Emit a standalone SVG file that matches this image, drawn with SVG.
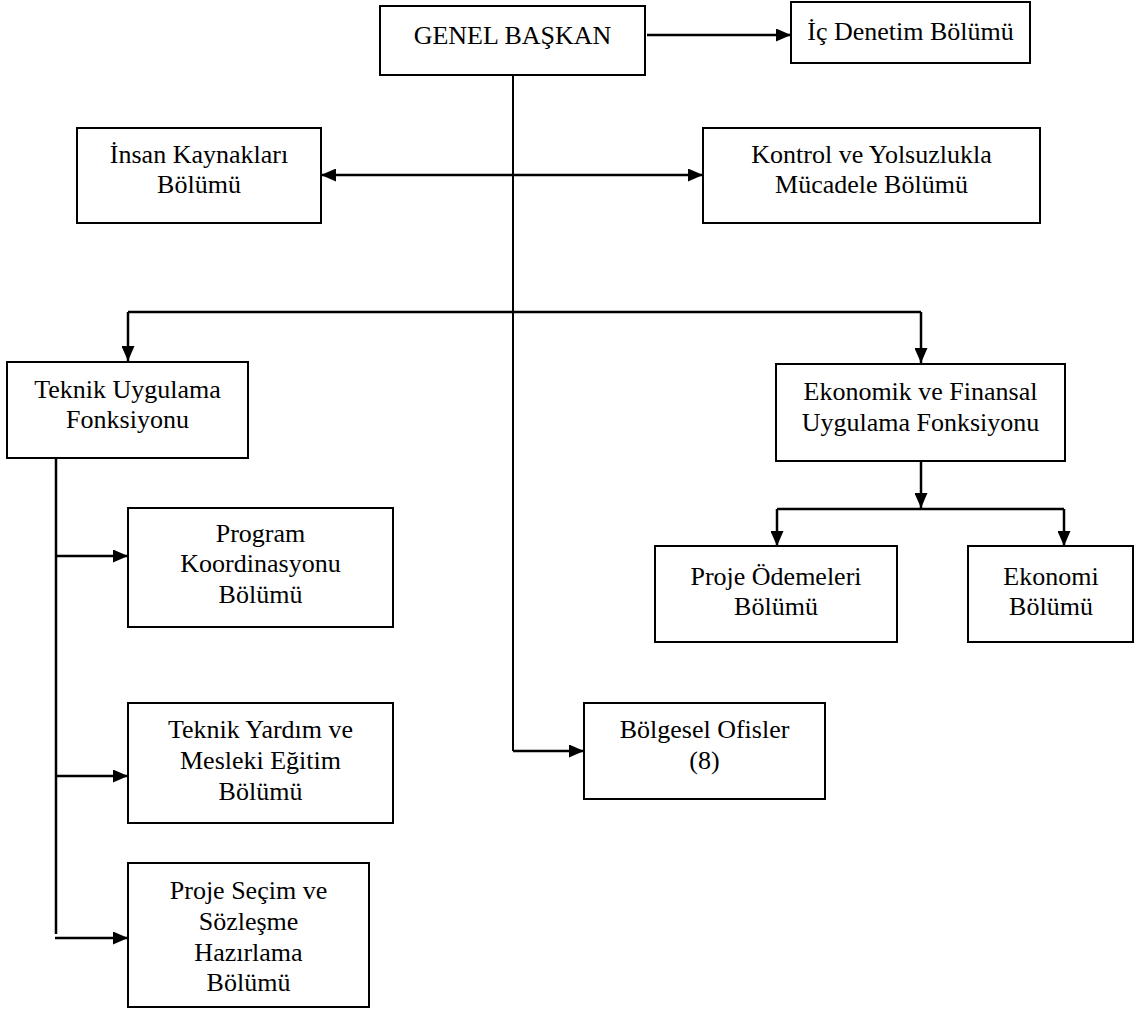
<svg xmlns="http://www.w3.org/2000/svg" width="1135" height="1010" viewBox="0 0 1135 1010">
  <style>
    .box { fill: #ffffff; stroke: #000000; stroke-width: 2; }
    .lbl { font-family: "Liberation Serif", "Times New Roman", serif; font-size: 26px; fill: #000000; text-anchor: middle; }
    .wire { fill: none; stroke: #000000; stroke-width: 2.5; }
    .trunk { fill: none; stroke: #000000; stroke-width: 2; }
  </style>
  <defs>
    <marker id="head" markerUnits="userSpaceOnUse" markerWidth="15" markerHeight="13" refX="15" refY="6.5" orient="auto-start-reverse">
      <path d="M0,0 L15,6.5 L0,13 Z" fill="#000000"/>
    </marker>
  </defs>
  <rect width="1135" height="1010" fill="#ffffff"/>

  <!-- connectors -->
  <g id="connectors">
    <!-- main trunk from the president down to the regional offices -->
    <path class="trunk" d="M513,75 L513,751"/>
    <path class="wire" d="M513,751 L584,751" marker-end="url(#head)"/>
    <!-- president to internal audit -->
    <path class="wire" d="M647,35 L791,35" marker-end="url(#head)"/>
    <!-- HR <-> control/anti-corruption -->
    <path class="wire" d="M321,175 L703,175" marker-start="url(#head)" marker-end="url(#head)"/>
    <!-- branch to the two functions -->
    <path class="wire" d="M128,312 L921,312"/>
    <path class="wire" d="M128,312 L128,361" marker-end="url(#head)"/>
    <path class="wire" d="M921,312 L921,363" marker-end="url(#head)"/>
    <!-- technical implementation spine -->
    <path class="wire" d="M56,458 L56,934"/>
    <path class="wire" d="M56,556 L128,556" marker-end="url(#head)"/>
    <path class="wire" d="M56,776 L128,776" marker-end="url(#head)"/>
    <path class="wire" d="M55,938 L128,938" marker-end="url(#head)"/>
    <!-- economic and financial branch -->
    <path class="wire" d="M921,461 L921,508" marker-end="url(#head)"/>
    <path class="wire" d="M777,509 L1064,509"/>
    <path class="wire" d="M777,509 L777,546" marker-end="url(#head)"/>
    <path class="wire" d="M1064,509 L1064,546" marker-end="url(#head)"/>
  </g>

  <g id="genel-baskan">
    <rect class="box" x="380" y="6" width="265" height="69"/>
    <text class="lbl" x="512.5" y="44">GENEL BAŞKAN</text>
  </g>

  <g id="ic-denetim">
    <rect class="box" x="791" y="2" width="239" height="61"/>
    <text class="lbl" x="910.5" y="40">İç Denetim Bölümü</text>
  </g>

  <g id="insan-kaynaklari">
    <rect class="box" x="77" y="128" width="244" height="95"/>
    <text class="lbl" x="199" y="163">İnsan Kaynakları</text>
    <text class="lbl" x="199" y="193">Bölümü</text>
  </g>

  <g id="kontrol-yolsuzluk">
    <rect class="box" x="703" y="128" width="337" height="95"/>
    <text class="lbl" x="871.5" y="163">Kontrol ve Yolsuzlukla</text>
    <text class="lbl" x="871.5" y="193">Mücadele Bölümü</text>
  </g>

  <g id="teknik-uygulama">
    <rect class="box" x="7" y="362" width="241" height="96"/>
    <text class="lbl" x="127.5" y="398">Teknik Uygulama</text>
    <text class="lbl" x="127.5" y="428">Fonksiyonu</text>
  </g>

  <g id="ekonomik-finansal">
    <rect class="box" x="776" y="364" width="289" height="97"/>
    <text class="lbl" x="920.5" y="400">Ekonomik ve Finansal</text>
    <text class="lbl" x="920.5" y="431">Uygulama Fonksiyonu</text>
  </g>

  <g id="program-koordinasyonu">
    <rect class="box" x="128" y="508" width="265" height="119"/>
    <text class="lbl" x="260.5" y="542">Program</text>
    <text class="lbl" x="260.5" y="572">Koordinasyonu</text>
    <text class="lbl" x="260.5" y="603">Bölümü</text>
  </g>

  <g id="proje-odemeleri">
    <rect class="box" x="655" y="546" width="242" height="96"/>
    <text class="lbl" x="776" y="585">Proje Ödemeleri</text>
    <text class="lbl" x="776" y="615">Bölümü</text>
  </g>

  <g id="ekonomi">
    <rect class="box" x="968" y="546" width="165" height="96"/>
    <text class="lbl" x="1051" y="585">Ekonomi</text>
    <text class="lbl" x="1051" y="615">Bölümü</text>
  </g>

  <g id="teknik-yardim">
    <rect class="box" x="128" y="703" width="265" height="120"/>
    <text class="lbl" x="260.5" y="738">Teknik Yardım ve</text>
    <text class="lbl" x="260.5" y="769">Mesleki Eğitim</text>
    <text class="lbl" x="260.5" y="800">Bölümü</text>
  </g>

  <g id="bolgesel-ofisler">
    <rect class="box" x="584" y="703" width="241" height="96"/>
    <text class="lbl" x="704.5" y="738">Bölgesel Ofisler</text>
    <text class="lbl" x="704.5" y="769">(8)</text>
  </g>

  <g id="proje-secim">
    <rect class="box" x="128" y="863" width="241" height="144"/>
    <text class="lbl" x="248.5" y="899">Proje Seçim ve</text>
    <text class="lbl" x="248.5" y="930">Sözleşme</text>
    <text class="lbl" x="248.5" y="961">Hazırlama</text>
    <text class="lbl" x="248.5" y="991">Bölümü</text>
  </g>
</svg>
